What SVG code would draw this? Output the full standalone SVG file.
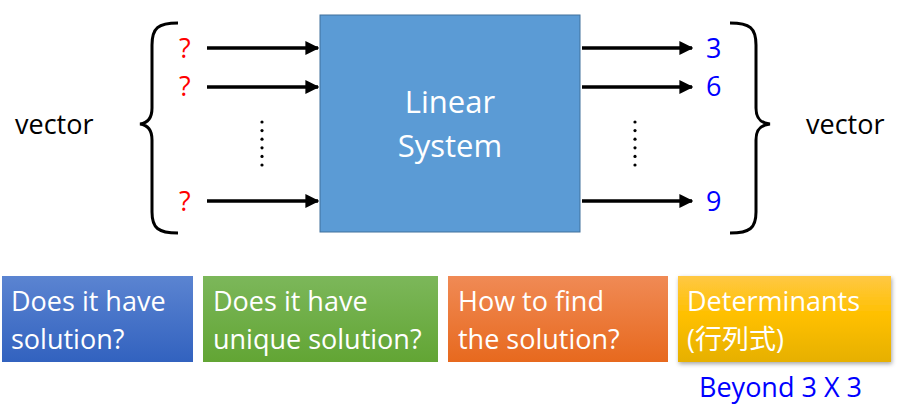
<svg xmlns="http://www.w3.org/2000/svg" width="899" height="409" viewBox="0 0 899 409">
<style>
text{font-family:"Open Sans","Liberation Sans","Noto Sans CJK TC",sans-serif}
.lbl{font-size:27px;fill:#000}
.q{font-size:27px;fill:#ff0000}
.n{font-size:27px;fill:#0000ff}
.w{font-size:27px;fill:#fff}
.brace{fill:none;stroke:#000;stroke-width:3}
.arr{stroke:#000;stroke-width:3.5;marker-end:url(#ah)}
.dot{fill:#000}
</style>
<defs>
<marker id="ah" markerWidth="4" markerHeight="4" refX="3.6" refY="2" orient="auto" markerUnits="strokeWidth">
<path d="M0,0 L4,2 L0,4 z" fill="#000"/>
</marker>
<linearGradient id="gb" x1="0" y1="0" x2="0" y2="1"><stop offset="0" stop-color="#5b84d1"/><stop offset="1" stop-color="#3262bf"/></linearGradient>
<linearGradient id="gg" x1="0" y1="0" x2="0" y2="1"><stop offset="0" stop-color="#7cb75a"/><stop offset="1" stop-color="#62a534"/></linearGradient>
<linearGradient id="go" x1="0" y1="0" x2="0" y2="1"><stop offset="0" stop-color="#f08a55"/><stop offset="1" stop-color="#e7691e"/></linearGradient>
<linearGradient id="gy" x1="0" y1="0" x2="0" y2="1"><stop offset="0" stop-color="#ffc844"/><stop offset="0.45" stop-color="#ffc000"/><stop offset="1" stop-color="#e6b000"/></linearGradient>
<filter id="sh" x="-5%" y="-5%" width="112%" height="120%"><feDropShadow dx="1" dy="2" stdDeviation="2" flood-color="#000" flood-opacity="0.35"/></filter>
</defs>

<g id="left-vector">
<path class="brace" d="M178,23 C158,23 152,28 152,45 L152,108 C152,118 148,123 140,124 C148,125 152,130 152,140 L152,212 C152,228 158,233 178,233"/>
<text class="lbl" x="15" y="134">vector</text>
<text class="q" x="179" y="58">?</text>
<text class="q" x="179" y="96">?</text>
<text class="q" x="179" y="211">?</text>
<g class="dot"><circle cx="262" cy="122" r="1.6"/><circle cx="262" cy="130.6" r="1.6"/><circle cx="262" cy="139.2" r="1.6"/><circle cx="262" cy="147.8" r="1.6"/><circle cx="262" cy="156.4" r="1.6"/><circle cx="262" cy="165" r="1.6"/></g>
</g>

<g id="linear-system">
<rect x="320" y="15" width="260" height="217" fill="#5b9bd5" stroke="#41719c" stroke-width="1"/>
<text x="450" y="113" text-anchor="middle" font-size="31" fill="#fff">Linear</text>
<text x="450" y="157" text-anchor="middle" font-size="31" fill="#fff">System</text>
</g>

<g id="right-vector">
<path class="brace" d="M730,23 C750,23 756,28 756,45 L756,108 C756,118 760,123 770,124 C760,125 756,130 756,140 L756,212 C756,228 750,233 730,233"/>
<text class="lbl" x="806" y="134">vector</text>
<text class="n" x="706" y="58">3</text>
<text class="n" x="706" y="96">6</text>
<text class="n" x="706" y="211">9</text>
<g class="dot"><circle cx="635" cy="122" r="1.6"/><circle cx="635" cy="130.6" r="1.6"/><circle cx="635" cy="139.2" r="1.6"/><circle cx="635" cy="147.8" r="1.6"/><circle cx="635" cy="156.4" r="1.6"/><circle cx="635" cy="165" r="1.6"/></g>
</g>

<g id="connectors">
<line class="arr" x1="207" y1="48" x2="318" y2="48"/>
<line class="arr" x1="207" y1="87" x2="318" y2="87"/>
<line class="arr" x1="207" y1="201" x2="318" y2="201"/>
<line class="arr" x1="582" y1="48" x2="692" y2="48"/>
<line class="arr" x1="582" y1="87" x2="692" y2="87"/>
<line class="arr" x1="582" y1="201" x2="692" y2="201"/>
</g>

<g id="box-existence">
<rect x="2" y="276" width="191" height="86" fill="url(#gb)"/>
<text class="w" x="11" y="311">Does it have</text>
<text class="w" x="11" y="349">solution?</text>
</g>
<g id="box-unique">
<rect x="203" y="276" width="235" height="86" fill="url(#gg)"/>
<text class="w" x="213" y="311">Does it have</text>
<text class="w" x="213" y="349">unique solution?</text>
</g>
<g id="box-find">
<rect x="448" y="276" width="220" height="86" fill="url(#go)"/>
<text class="w" x="458" y="311">How to find</text>
<text class="w" x="458" y="349">the solution?</text>
</g>
<g id="box-determinants">
<rect x="678" y="276" width="213" height="86" fill="url(#gy)" filter="url(#sh)"/>
<text class="w" x="687" y="311">Determinants</text>
<text class="w" x="687" y="349">(行列式)</text>
<text x="699" y="397" font-size="27" fill="#0000ff">Beyond 3 X 3</text>
</g>
</svg>
